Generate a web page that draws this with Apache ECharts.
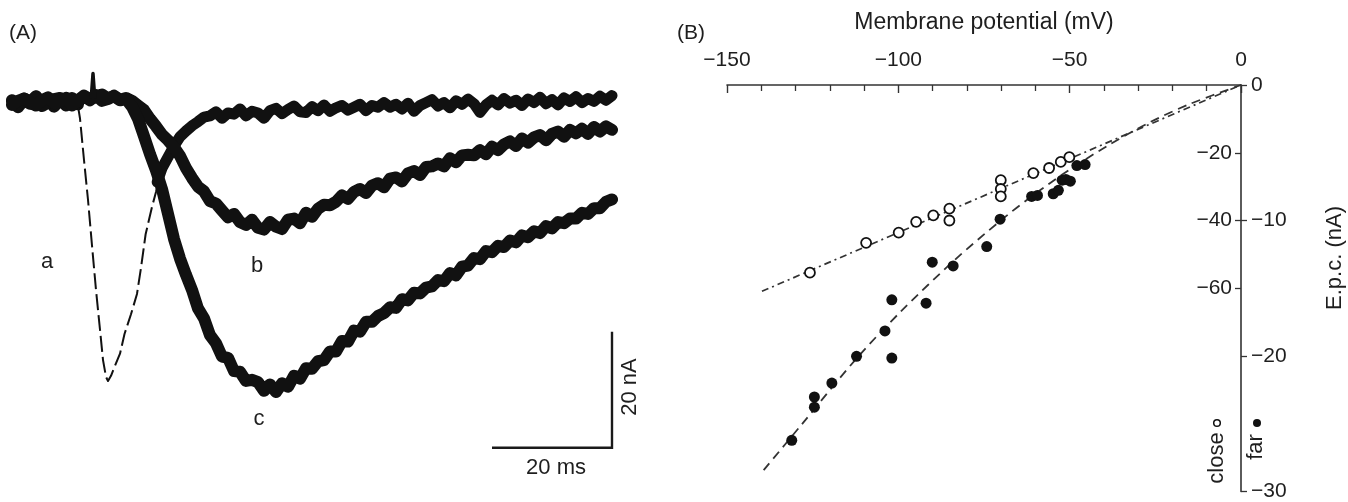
<!DOCTYPE html>
<html>
<head>
<meta charset="utf-8">
<script src="https://cdn.jsdelivr.net/npm/echarts@6/dist/echarts.min.js"></script>
<style>
  html, body { margin: 0; padding: 0; background: #fff; }
  #chart { width: 1348px; height: 502px; }
</style>
</head>
<body>
<div id="chart"></div>
<script>
// ---------- (A) end-plate current records: [time (ms), current (nA)] ----------
const traceA_rest = [[0,0.1],[1,-0.9],[2,0.4],[3,-0.3],[4,1.0],[5,-0.2],[6,0.5],[7,-0.8],[8,0.3],[9,-0.4],[10,0.7],[11,-0.4]];
const traceA_fast = [[11,-0.7],[11.33,-2.8],[12,-10],[12.67,-16.9],[13.33,-24.7],[14,-32.4],[14.67,-39.3],[15.17,-44.5],[15.67,-47.4],[16,-48.1],[16.5,-47.2],[17,-45.9],[18,-43.4],[18.75,-40],[19.83,-36.6],[20.83,-33.1],[21.5,-28.6],[22.27,-22.8],[23.33,-18.1],[24,-15.5],[24.67,-12.1]];
const traceA_tail = [[24.2,-13.8],[25,-11.4],[26,-9.5],[27,-7.6],[28,-6.0],[29,-5.0],[30,-4.1],[31,-3.4],[32,-2.6],[33,-2.4],[34,-1.7],[35,-2.8],[36,-1.9],[37,-2.1],[38,-1.2],[39,-2.4],[40,-1.6],[41,-1.9],[42,-2.8],[43,-1.5],[44,-1.1],[45,-2.0],[46,-1.3],[47,-0.7],[48,-1.7],[49,-1.8],[50,-0.8],[51,-1.5],[52,-0.5],[53,-1.6],[54,-1.0],[55,-0.6],[56,-1.4],[57,-0.9],[58,-0.4],[59,-1.5],[60,-0.6],[61,-0.9],[62,-0.1],[63,-0.9],[64,-0.4],[65,-1.2],[66,-0.2],[67,-1.6],[68,-0.6],[69,-0.1],[70,0.4],[71,-0.7],[72,-0.1],[73,-1.0],[74,0.2],[75,-0.4],[76,0.5],[77,-0.3],[78,-1.8],[79,-0.5],[80,0.3],[81,-0.5],[82,0.6],[83,-0.2],[84,0.3],[85,-0.6],[86,0.5],[87,-0.1],[88,0.8],[89,-0.3],[90,0.4],[91,-0.5],[92,0.7],[93,0.1],[94,0.9],[95,-0.1],[96,0.6],[97,0.1],[98,1.0],[99,0.3],[100,1.1]];
const traceB = [[0,0.3],[1,-0.5],[2,0.6],[3,0.1],[4,0.9],[5,-0.7],[6,-0.1],[7,0.5],[8,0.7],[9,-0.6],[10,0.2],[11,0.1],[12,1.0],[13,0.3],[14,1.2],[15,0.2],[16,0.5],[17,1.1],[18,0.4],[19,0.7],[20,0.2],[21,-0.6],[22,-1.4],[23,-2.9],[24,-4.2],[25,-5.6],[26,-6.6],[27,-7.8],[28,-9.3],[29,-11.4],[30,-13.1],[31,-14.6],[32,-15.4],[33,-17.1],[34,-17.5],[35,-18.7],[36,-19.9],[37,-19.3],[38,-20.7],[39,-21.2],[40,-20.3],[41,-21.7],[42,-22.0],[43,-20.7],[44,-21.5],[45,-21.9],[46,-20.3],[47,-20.1],[48,-20.9],[49,-19.1],[50,-19.8],[51,-18.4],[52,-17.7],[53,-17.8],[54,-17.2],[55,-16.1],[56,-16.7],[57,-15.5],[58,-15.0],[59,-15.7],[60,-14.4],[61,-14.0],[62,-14.7],[63,-13.2],[64,-13.0],[65,-13.7],[66,-12.3],[67,-11.9],[68,-12.6],[69,-11.2],[70,-11.1],[71,-10.6],[72,-11.1],[73,-9.7],[74,-10.4],[75,-9.2],[76,-9.1],[77,-9.2],[78,-8.3],[79,-9.0],[80,-7.7],[81,-8.3],[82,-7.3],[83,-6.8],[84,-7.6],[85,-6.3],[86,-7.0],[87,-6.1],[88,-5.7],[89,-6.6],[90,-5.5],[91,-5.1],[92,-6.0],[93,-4.8],[94,-5.4],[95,-4.6],[96,-5.5],[97,-4.3],[98,-5.1],[99,-4.2],[100,-4.8]];
const traceC = [[0,-0.5],[1,0.2],[2,0.6],[3,-0.1],[4,-0.6],[5,0.3],[6,0.8],[7,-0.2],[8,0.1],[9,0.7],[10,-0.6],[11,0.3],[12,1.1],[13,0.5],[14,0.8],[15,1.3],[16,0.6],[17,1.0],[18,0.3],[19,0.5],[20,-0.8],[21,-2.9],[22,-5.9],[23,-9.0],[24,-11.8],[25,-15.0],[26,-19.3],[27,-23.6],[28,-27.0],[29,-29.8],[30,-32.4],[31,-35.6],[32,-37.3],[33,-40.2],[34,-41.6],[35,-43.9],[36,-44.1],[37,-46.4],[38,-46.5],[39,-48.1],[40,-47.9],[41,-48.3],[42,-49.8],[43,-48.7],[44,-50.0],[45,-48.5],[46,-49.1],[47,-47.2],[48,-47.7],[49,-45.9],[50,-46.0],[51,-44.7],[52,-44.5],[53,-43.0],[54,-43.0],[55,-41.2],[56,-41.3],[57,-39.4],[58,-39.6],[59,-37.9],[60,-37.9],[61,-36.9],[62,-36.4],[63,-35.4],[64,-35.5],[65,-34.0],[66,-34.2],[67,-32.9],[68,-33.0],[69,-32.0],[70,-31.8],[71,-30.7],[72,-30.9],[73,-29.5],[74,-29.9],[75,-28.4],[76,-28.2],[77,-26.9],[78,-27.1],[79,-25.7],[80,-25.9],[81,-24.8],[82,-25.0],[83,-23.9],[84,-24.2],[85,-23.0],[86,-23.3],[87,-22.3],[88,-22.6],[89,-21.4],[90,-21.8],[91,-20.7],[92,-20.9],[93,-20.1],[94,-20.1],[95,-19.1],[96,-19.3],[97,-18.3],[98,-18.3],[99,-17.2],[100,-16.8]];
// brief artefact on the baseline
const baselineSpike = [[13.2,0.6],[13.5,4.9],[13.8,0.6]];

// calibration bars: 20 ms by 20 nA, corner at (100 ms, -59.6 nA)
const barTimeMs = 20;
const barCurrentNA = 20;
const barCorner = [100, -59.6];

// ---------- (B) e.p.c. amplitude vs membrane potential: [mV, nA] ----------
const closeOpen = [[-125.8,-55.4],[-109.4,-46.6],[-99.9,-43.6],[-94.8,-40.4],[-89.8,-38.5],[-85.1,-36.5],[-85.1,-40.0],[-70.1,-28.1],[-70.1,-30.7],[-70.1,-32.9],[-60.6,-26.0],[-56.0,-24.5],[-52.6,-22.7],[-50.1,-21.3]];
const farFilled = [[-131.1,-104.9],[-124.5,-92.1],[-124.5,-95.1],[-119.4,-88.0],[-112.2,-80.1],[-103.9,-72.6],[-101.9,-63.4],[-101.9,-80.6],[-91.9,-64.4],[-90.1,-52.3],[-84.0,-53.4],[-74.2,-47.7],[-70.3,-39.6],[-61.1,-32.9],[-59.4,-32.6],[-54.8,-32.1],[-53.3,-31.1],[-52.2,-28.1],[-51.1,-27.9],[-49.8,-28.4],[-47.9,-23.8],[-45.5,-23.5]];
const closeFit = [[-139.8,-60.9],[0,0]];
const farFit = [[-139.3,-113.7],[-128.2,-100.2],[-112.1,-80.6],[-99.5,-67.1],[-83.5,-51.6],[-70.0,-39.9],[-61.0,-32.8],[-49.6,-24.7],[-38.2,-17.5],[-26.6,-11.0],[-14.9,-5.6],[0,0]];
const leftScaleTicks = [-60, -40, -20];

const INK = '#111';
const TXT = '#1e1e1e';
const FONT = '"Liberation Sans", Arial, Helvetica, sans-serif';
const minus = v => (v < 0 ? '\u2212' + (-v) : String(v));

const traceStyle = { width: 12, color: INK, join: 'round', cap: 'round' };
function traceSeries(data, lineStyle) {
  return {
    type: 'line', xAxisIndex: 0, yAxisIndex: 0, data: data,
    showSymbol: false, symbol: 'none', lineStyle: lineStyle, z: 3, silent: true
  };
}
function label(text, x, y, size, rotated) {
  return {
    type: 'text', x: x, y: y, rotation: rotated ? Math.PI / 2 : 0,
    style: { text: text, fontSize: size, fill: TXT, fontFamily: FONT, align: 'center', verticalAlign: 'middle' }
  };
}

const chart = echarts.init(document.getElementById('chart'), null, { renderer: 'canvas' });

const option = {
  animation: false,
  backgroundColor: '#fff',
  textStyle: { fontFamily: FONT, color: TXT },
  grid: [
    { left: 12, top: 44, width: 600, height: 406 },
    { left: 727, top: 85, width: 514, height: 408 }
  ],
  xAxis: [
    { gridIndex: 0, type: 'value', min: 0, max: 100, show: false },
    {
      gridIndex: 1, type: 'value', position: 'top', min: -150, max: 0, interval: 50,
      axisLine: { show: true, onZero: false, lineStyle: { color: '#333', width: 1.6 } },
      axisTick: { show: true, inside: true, length: 8, lineStyle: { color: '#333', width: 1.4 } },
      minorTick: { show: true, splitNumber: 5, length: 6, lineStyle: { color: '#333', width: 1.3 } },
      axisLabel: { formatter: minus, fontSize: 21, margin: 14, color: TXT, fontFamily: FONT },
      splitLine: { show: false },
      name: 'Membrane potential (mV)', nameLocation: 'middle', nameGap: 51,
      nameTextStyle: { fontSize: 23, color: TXT, fontFamily: FONT }
    }
  ],
  yAxis: [
    { gridIndex: 0, type: 'value', min: -60, max: 10, show: false },
    {
      gridIndex: 1, type: 'value', position: 'right', min: -120, max: 0,
      axisLine: { show: true, onZero: false, lineStyle: { color: '#333', width: 1.6 } },
      axisTick: { show: true, inside: true, length: 6, customValues: leftScaleTicks, lineStyle: { color: '#333', width: 1.3 } },
      axisLabel: { inside: true, margin: 9, customValues: leftScaleTicks, formatter: minus, fontSize: 21, color: TXT, fontFamily: FONT },
      splitLine: { show: false }
    },
    {
      gridIndex: 1, type: 'value', position: 'right', min: -30, max: 0, interval: 10,
      axisLine: { show: false },
      axisTick: { show: true, inside: false, length: 6, lineStyle: { color: '#333', width: 1.3 } },
      axisLabel: { margin: 10, formatter: minus, fontSize: 21, color: TXT, fontFamily: FONT },
      splitLine: { show: false }
    }
  ],
  series: [
    traceSeries(traceA_rest, traceStyle),
    traceSeries(traceA_fast, { width: 2, color: INK, type: [16, 5], join: 'round' }),
    traceSeries(traceA_tail, { width: 11, color: INK, join: 'round', cap: 'round' }),
    traceSeries(traceB, traceStyle),
    traceSeries(traceC, traceStyle),
    traceSeries(baselineSpike, { width: 3.5, color: INK, join: 'round' }),
    {
      type: 'line', xAxisIndex: 0, yAxisIndex: 0, symbol: 'none', silent: true,
      data: [[barCorner[0] - barTimeMs, barCorner[1]], barCorner, [barCorner[0], barCorner[1] + barCurrentNA]],
      lineStyle: { width: 2.4, color: '#1a1a1a', join: 'miter' }
    },
    {
      type: 'line', xAxisIndex: 1, yAxisIndex: 1, symbol: 'none', silent: true, data: closeFit,
      lineStyle: { width: 1.7, color: '#333', type: [7, 4, 2, 4] }, z: 2
    },
    {
      type: 'line', xAxisIndex: 1, yAxisIndex: 1, symbol: 'none', silent: true, data: farFit, smooth: 0.3,
      lineStyle: { width: 1.8, color: '#333', type: [9, 6] }, z: 2
    },
    {
      type: 'scatter', xAxisIndex: 1, yAxisIndex: 1, data: closeOpen, symbol: 'circle', symbolSize: 10,
      itemStyle: { color: '#fff', borderColor: INK, borderWidth: 1.8, opacity: 1 }, z: 4
    },
    {
      type: 'scatter', xAxisIndex: 1, yAxisIndex: 1, data: farFilled, symbol: 'circle', symbolSize: 11,
      itemStyle: { color: INK, opacity: 1 }, z: 4
    }
  ],
  graphic: [
    { type: 'text', left: 9, top: 23, style: { text: '(A)', fontSize: 21, fill: TXT, fontFamily: FONT } },
    { type: 'text', left: 677, top: 23, style: { text: '(B)', fontSize: 21, fill: TXT, fontFamily: FONT } },
    label('a', 47, 262, 22),
    label('b', 257, 266, 22),
    label('c', 259, 419, 22),
    label('20 ms', 556, 468, 22),
    label('20 nA', 630, 387, 22, true),
    label('E.p.c. (nA)', 1335, 258, 22, true),
    { type: 'circle', shape: { cx: 1217, cy: 423, r: 3.3 }, style: { fill: '#fff', stroke: INK, lineWidth: 1.5 } },
    label('close', 1217, 458, 22, true),
    { type: 'circle', shape: { cx: 1257, cy: 423, r: 4 }, style: { fill: INK } },
    label('far', 1256, 447, 22, true)
  ]
};

chart.setOption(option);
</script>
</body>
</html>
